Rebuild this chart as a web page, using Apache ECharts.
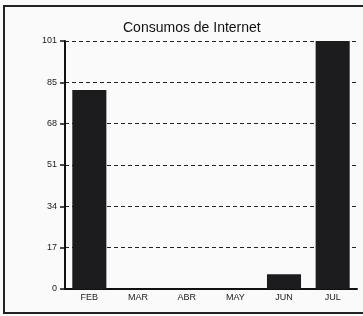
<!DOCTYPE html>
<html>
<head>
<meta charset="utf-8">
<script src="https://cdn.jsdelivr.net/npm/echarts@6/dist/echarts.min.js"></script>
<style>
  html, body { margin: 0; padding: 0; background: #fafafa; }
  #chart { width: 363px; height: 316px; }
</style>
</head>
<body>
<div id="chart"></div>
<script>
  // datos
  const months = ['FEB', 'MAR', 'ABR', 'MAY', 'JUN', 'JUL'];
  const consumo = [81, 0, 0, 0, 6, 101];
  const yLabels = ['0', '17', '34', '51', '68', '85', '101'];
  const yMax = 101;

  const step = yMax / (yLabels.length - 1);
  const myChart = echarts.init(document.getElementById('chart'));
  myChart.setOption({
    backgroundColor: '#fafafa',
    animation: false,
    title: {
      text: 'Consumos de Internet',
      left: 118,
      top: 16,
      textStyle: {
        fontFamily: 'Liberation Sans',
        fontSize: 14,
        fontWeight: 'normal',
        color: '#111'
      }
    },
    graphic: [{
      type: 'rect',
      z: -1,
      shape: { x: 4, y: 6, width: 420, height: 307 },
      style: { fill: 'none', stroke: '#222', lineWidth: 2 }
    }],
    grid: {
      left: 65,
      right: 6,
      top: 41,
      bottom: 27
    },
    xAxis: {
      type: 'category',
      data: months,
      axisLine: { lineStyle: { color: '#111', width: 2 } },
      axisTick: { show: false },
      axisLabel: {
        fontFamily: 'Liberation Sans',
        fontSize: 9,
        color: '#222',
        margin: 4
      }
    },
    yAxis: {
      type: 'value',
      min: 0,
      max: yMax,
      interval: step,
      axisLine: { show: true, lineStyle: { color: '#111', width: 2 } },
      axisTick: { show: true, length: 5, lineStyle: { color: '#111', width: 1.5 } },
      axisLabel: {
        fontFamily: 'Liberation Sans',
        fontSize: 9,
        color: '#222',
        margin: 8,
        formatter: function (v) {
          return yLabels[Math.round(v / step)];
        }
      },
      splitLine: {
        lineStyle: { color: '#222', type: [4, 3], width: 1.2 }
      }
    },
    series: [{
      type: 'bar',
      data: consumo,
      barWidth: '70%',
      itemStyle: { color: '#1c1c1e' }
    }]
  });
</script>
</body>
</html>
